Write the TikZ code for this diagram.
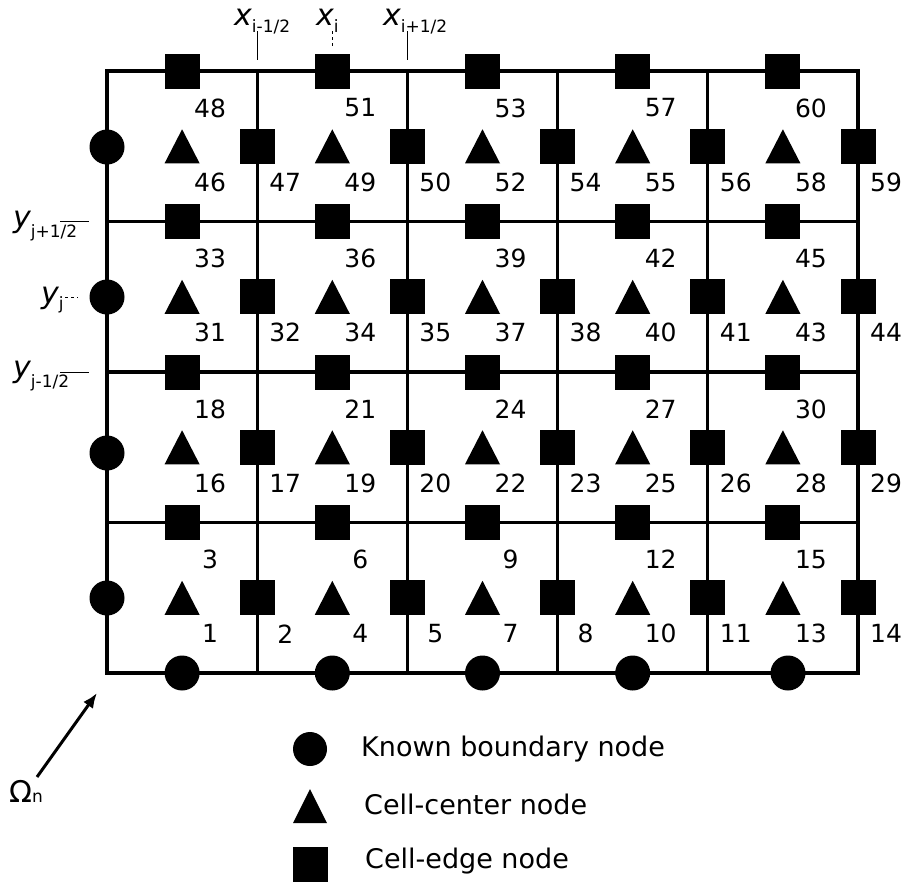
\documentclass[tikz,border=0pt]{standalone}
\usepackage{fontspec}
\setmainfont{DejaVu Sans}
\usetikzlibrary{arrows.meta}
\newcommand{\myvar}[1]{{\fontsize{30}{30}\selectfont\itshape #1}}
\newcommand{\mysub}[2]{{\fontsize{17}{17}\selectfont\raisebox{#1}{#2}}}
\begin{document}
\begin{tikzpicture}[x=1pt,y=-1pt,
  gridline/.style={line width=3.2pt,line cap=rect},
  sq/.style={rectangle,fill=black,minimum size=35pt,inner sep=0pt},
  bc/.style={circle,fill=black,minimum size=35pt,inner sep=0pt},
  num/.style={font=\fontsize{25}{25}\selectfont,inner sep=0pt},
  tickline/.style={line width=1pt},
  dtick/.style={line width=1pt,dash pattern=on 3pt off 3pt},
  lab/.style={anchor=base west,inner sep=0pt},
  legtext/.style={anchor=base west,inner sep=0pt,font=\fontsize{27}{27}\selectfont}]
\useasboundingbox (0,0) rectangle (910,884);
% grid
\foreach \k in {0,...,5}{
  \draw[gridline] ({107+150.2*\k},71) -- ({107+150.2*\k},673);
}
\foreach \k in {0,...,4}{
  \draw[gridline] (107,{71+150.5*\k}) -- (858,{71+150.5*\k});
}
% markers and numbers
\foreach \r in {0,...,3}{
  \foreach \c in {0,...,4}{
    \pgfmathsetmacro\cx{182.1+150.2*\c}
    \pgfmathsetmacro\cy{597.75-150.5*\r}
    \pgfmathsetmacro\ty{522.5-150.5*\r}
    \pgfmathsetmacro\rx{257.2+150.2*\c}
    \pgfmathtruncatemacro\base{1+15*\r+3*\c}
    \pgfmathtruncatemacro\rn{\base+1}
    \pgfmathtruncatemacro\tn{\base+2}
    \ifnum\base=52 \def\rn{54}\def\tn{53}\fi
    \node[sq] (t\r\c) at (\cx,\ty) {};
    \node[sq] (e\r\c) at (\rx,\cy) {};
    \coordinate (m\r\c) at (\cx,\cy);
    \fill ({\cx-17.5},{\cy+17}) -- ({\cx+17.5},{\cy+17}) -- (\cx,{\cy-17}) -- cycle;
    \node[num] (nt\r\c) at ({\cx+28},{\ty+37}) {\tn};
    \node[num] (nm\r\c) at ({\cx+28},{\cy+36}) {\base};
    \node[num] (ne\r\c) at ({\rx+28},{\cy+36}) {\rn};
  }
}
% boundary circles
\node[bc] (l0) at (107,598) {};
\node[bc] (l1) at (107,453) {};
\node[bc] (l2) at (107,297) {};
\node[bc] (l3) at (107,147) {};
\node[bc] (b0) at (182.1,673) {};
\node[bc] (b1) at (332.3,673) {};
\node[bc] (b2) at (482.5,673) {};
\node[bc] (b3) at (632.7,673) {};
\node[bc] (b4) at (788,673) {};
% axis labels
\node[lab] (xa) at (234,25) {\myvar{x}\mysub{-7pt}{i-1/2}};
\node[lab] (xb) at (316,25) {\myvar{x}\mysub{-7pt}{i}};
\node[lab] (xc) at (383,25) {\myvar{x}\mysub{-7pt}{i+1/2}};
\draw[tickline] (257.2,31) -- (257.2,60);
\draw[dtick] (332.3,31) -- (332.3,48);
\draw[tickline] (407.4,31) -- (407.4,60);
\node[lab] (ya) at (13,227) {\myvar{y}\mysub{-10pt}{j+1/2}};
\node[lab] (yb) at (41,303) {\myvar{y}\mysub{-6pt}{j}};
\node[lab] (yc) at (13,377) {\myvar{y}\mysub{-10pt}{j-1/2}};
\draw[tickline] (60,221) -- (89,221);
\draw[dtick] (65,297) -- (78,297);
\draw[tickline] (60,372) -- (89,372);
% Omega
\node[lab] (om) at (9,802) {{\fontsize{30}{30}\selectfont Ω}{\fontsize{17}{17}\selectfont n}};
\coordinate (oa) at (37,777);
\coordinate (ob) at (97,693);
\draw[line width=3pt,-{Latex[length=15pt,width=12pt]}] (oa) -- (ob);
% legend
\node[bc,minimum size=34pt] (lgc) at (310,749) {};
\fill (293,823) -- (327,823) -- (310,789) -- cycle;
\node[sq] (lgs) at (310.5,864) {};
\node[legtext] (tk) at (361,756) {Known boundary node};
\node[legtext] (tc) at (364,814) {Cell-center node};
\node[legtext] (te) at (365,868) {Cell-edge node};
\end{tikzpicture}
\end{document}
